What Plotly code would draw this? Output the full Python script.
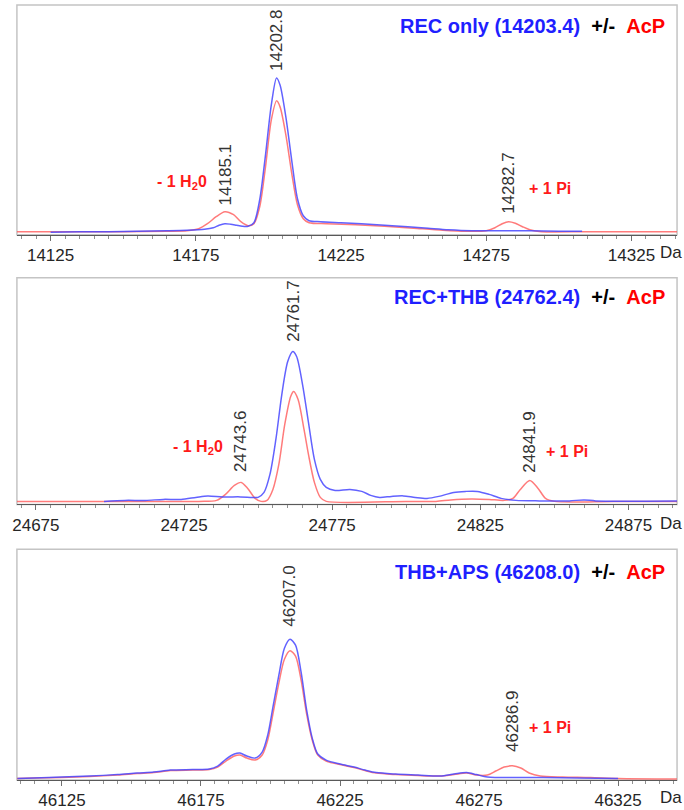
import plotly.graph_objects as go

# ---------------- DATA ----------------
# Panel 1 : REC only (14203.4) +/- AcP
p1_blue_da = [14125, 14135, 14145, 14155, 14165, 14172, 14178, 14181, 14183, 14185, 14187, 14189,
              14191, 14193, 14195, 14197, 14199, 14201, 14202.8, 14204, 14206, 14208, 14210, 14212,
              14214, 14218, 14225, 14232, 14240, 14248, 14255, 14262, 14270, 14280, 14290, 14300, 14308]
p1_blue_int = [2.5, 3, 3, 3.5, 4, 4.5, 5.5, 7, 9.5, 11, 10.5, 9.5,
               8.5, 8.5, 12, 35, 80, 130, 157, 150, 118, 75, 36, 19,
               14, 13, 12, 11, 9.5, 8, 6.5, 5, 4, 4, 4, 3.5, 3.5]
p1_red_da = [14113.4, 14130, 14150, 14165, 14172, 14176, 14179, 14182, 14185, 14188, 14190.5,
             14193, 14195, 14197, 14199, 14201, 14202.8, 14204, 14206, 14208, 14210, 14212,
             14214, 14220, 14230, 14240, 14250, 14260, 14268, 14275, 14278, 14280.5, 14282.7,
             14285, 14287.5, 14290, 14294, 14310, 14340.7]
p1_red_int = [3, 3, 3, 3.5, 4, 6, 11, 18, 23, 20, 13,
              9, 11, 28, 68, 115, 134, 128, 100, 62, 30, 16,
              12, 11, 10, 8.5, 6.5, 4.5, 3.5, 4, 7, 11, 13,
              11.5, 8, 5, 3, 3, 3]

# Panel 2 : REC+THB (24762.4) +/- AcP
p2_blue_da = [24698, 24705, 24712, 24718, 24724, 24729, 24733, 24738, 24744, 24748, 24750,
              24752, 24754, 24756, 24758, 24760, 24761.7, 24763, 24765, 24767, 24769, 24771,
              24773, 24776, 24781, 24785, 24788, 24791, 24795, 24799, 24803, 24807, 24811,
              24816, 24820, 24824, 24828, 24832, 24837, 24845, 24855, 24860, 24864, 24891.4]
p2_blue_int = [3, 4, 4, 5, 5, 7, 8.5, 7.5, 7.5, 7, 7,
               12, 30, 65, 110, 143, 153, 148, 120, 82, 45, 25,
               17, 14, 15, 13, 9, 7, 8, 8.5, 7, 6, 8,
               12, 13, 13, 10, 6, 4, 3.5, 3.5, 4.5, 3.5, 3.5]
p2_red_da = [24668.6, 24700, 24730, 24736, 24739, 24742, 24744.3, 24746.5, 24749, 24751,
             24753, 24755, 24757, 24759, 24761, 24762, 24763.5, 24765.5, 24767, 24769, 24771,
             24773, 24800, 24810, 24815, 24822, 24828, 24833, 24836, 24838.5, 24841.7,
             24844.5, 24847, 24850, 24870, 24891.4]
p2_red_int = [3, 3, 3, 4, 10, 19, 22, 16, 6, 3,
              4, 15, 40, 80, 108, 113, 105, 75, 50, 22, 7,
              3, 3, 3, 4.5, 5.5, 5, 4, 6, 15, 24,
              16, 6, 3, 3, 3]

# Panel 3 : THB+APS (46208.0) +/- AcP
p3_blue_da = [46109, 46115, 46125, 46135, 46145, 46152, 46158, 46164, 46172, 46178, 46181,
              46184, 46187, 46189, 46191.5, 46194.5, 46197, 46199, 46201, 46203, 46205, 46207,
              46209, 46211, 46213, 46215, 46217, 46220, 46225, 46230, 46234, 46238, 46245,
              46253, 46261, 46266, 46270.5, 46274, 46278, 46290, 46298, 46310, 46325]
p3_blue_int = [1.5, 2, 3, 4, 5.5, 7, 8, 10, 10.5, 11, 14,
               21, 26, 27, 24, 22, 28, 45, 75, 105, 132, 141,
               135, 108, 70, 42, 26, 20, 16, 13, 10, 7.5, 6,
               5, 4, 6, 7.5, 5.5, 3, 2.5, 2.5, 2, 1.5]
p3_red_da = [46108.8, 46115, 46125, 46135, 46145, 46152, 46158, 46164, 46172, 46178, 46181,
             46184, 46187, 46189, 46191.5, 46194.5, 46197, 46199, 46201, 46203, 46205, 46207,
             46209, 46211, 46213, 46215, 46217, 46220, 46225, 46230, 46234, 46238, 46245,
             46253, 46261, 46266, 46270.5, 46274, 46278, 46281, 46284, 46287, 46290, 46293,
             46297, 46305, 46315, 46325, 46346.2]
p3_red_int = [1.5, 2, 2.5, 3.5, 5, 6.5, 7.5, 9.5, 10, 10.5, 13,
              19, 24, 25, 22, 20, 25, 40, 68, 97, 121, 129.5,
              124, 100, 66, 40, 25, 19, 15.5, 12.5, 9.5, 7, 5.5,
              4.5, 4, 5.5, 7, 5, 5, 9, 13, 14.2, 12, 7,
              4, 3, 2.5, 1.5, 1]

# Axis ranges, ticks
x_ranges = [[14113.4, 14340.7], [24668.6, 24891.4], [46108.8, 46346.2]]
tick_starts = [14125, 24675, 46125]
y_tops = [230, 227, 231]

# Panel texts
panel_titles = ["REC only (14203.4)", "REC+THB (24762.4)", "THB+APS (46208.0)"]
peak_labels = [
    [("14202.8", 14202.8, 162), ("14185.1", 14185.1, 27), ("14282.7", 14282.7, 19)],
    [("24761.7", 24761.7, 161), ("24743.6", 24744.3, 30), ("24841.9", 24841.7, 30)],
    [("46207.0", 46207.0, 152), ("46286.9", 46287.0, 26)],
]
mod_labels = [
    [("- 1 H<sub>2</sub>0", 14170.1, 52), ("+ 1 Pi", 14297.0, 46)],
    [("- 1 H<sub>2</sub>0", 24729.6, 57), ("+ 1 Pi", 24854.2, 53)],
    [("+ 1 Pi", 46300.5, 53)],
]

# ---------------- FIGURE ----------------
W, H = 684, 810
FONT = "Liberation Sans, Arial, sans-serif"
BLUE_LINE = "rgba(70,70,255,0.85)"
RED_LINE = "rgba(255,90,90,0.80)"

# pixel geometry of panels (top px, axis px)
panels_px = [(5, 235), (278, 505), (550, 781)]
x_dom = [12 / W, 677 / W]

fig = go.Figure()
series = [(p1_blue_da, p1_blue_int, p1_red_da, p1_red_int),
          (p2_blue_da, p2_blue_int, p2_red_da, p2_red_int),
          (p3_blue_da, p3_blue_int, p3_red_da, p3_red_int)]

layout_axes = {}
annotations = []
shapes = []
for i, (bx, by, rx, ry) in enumerate(series):
    n = "" if i == 0 else str(i + 1)
    xa, ya = "x" + n, "y" + n
    fig.add_trace(go.Scatter(x=rx, y=ry, mode="lines", xaxis=xa, yaxis=ya,
                             line=dict(color=RED_LINE, width=1.5, shape="spline", smoothing=0.8),
                             hoverinfo="skip", showlegend=False))
    fig.add_trace(go.Scatter(x=bx, y=by, mode="lines", xaxis=xa, yaxis=ya,
                             line=dict(color=BLUE_LINE, width=1.5, shape="spline", smoothing=0.8),
                             hoverinfo="skip", showlegend=False))
    top_px, ax_px = panels_px[i]
    y_dom = [(H - ax_px) / H, (H - top_px) / H]
    layout_axes["xaxis" + n] = dict(
        domain=x_dom, anchor=ya, range=x_ranges[i], showgrid=False, zeroline=False,
        showline=True, linecolor="#595959", linewidth=1,
        ticks="outside", ticklen=5, tickwidth=1, tickcolor="#707070",
        tick0=tick_starts[i], dtick=50, tickformat="d",
        tickfont=dict(family=FONT, size=17, color="#262626"),
        minor=dict(ticks="outside", ticklen=3, tickwidth=1, tickcolor="#909090",
                   dtick=5, tick0=tick_starts[i], showgrid=False),
        fixedrange=True)
    layout_axes["yaxis" + n] = dict(
        domain=y_dom, anchor=xa, range=[0, y_tops[i]], visible=False, fixedrange=True)

    # border of the panel (gray frame)
    shapes.append(dict(type="rect", xref="paper", yref="paper",
                       x0=x_dom[0], x1=x_dom[1], y0=y_dom[0], y1=y_dom[1],
                       line=dict(color="#c4c4c4", width=1.5), layer="below"))

    # title
    title_y = [(H - 26) / H, (H - 297) / H, (H - 573) / H][i]
    annotations.append(dict(
        xref="paper", yref="paper", x=667 / W, y=title_y, xanchor="right", yanchor="middle",
        showarrow=False,
        text=("<b><span style='color:#1f1fff'>" + panel_titles[i] + "</span>"
              "\u00a0\u00a0<span style='color:#000000'>+/-</span>\u00a0\u00a0"
              "<span style='color:#ff0000'>AcP</span></b>"),
        font=dict(family=FONT, size=20, color="#1f1fff")))

    # peak mass labels (vertical)
    for txt, xv, yv in peak_labels[i]:
        annotations.append(dict(xref=xa, yref=ya, x=xv, y=yv, text=txt, textangle=-90,
                                xanchor="center", yanchor="bottom", showarrow=False,
                                font=dict(family=FONT, size=17, color="#333333")))
    # modification labels
    for txt, xv, yv in mod_labels[i]:
        annotations.append(dict(xref=xa, yref=ya, x=xv, y=yv, text="<b>" + txt + "</b>",
                                xanchor="center", yanchor="middle", showarrow=False,
                                font=dict(family=FONT, size=16, color="#ff1a1a")))
    # "Da" unit
    label_px = [253, 524, 798][i]
    annotations.append(dict(xref="paper", yref="paper", x=1.0, y=(H - label_px) / H,
                            xanchor="right", yanchor="middle", text="Da", showarrow=False,
                            font=dict(family=FONT, size=17, color="#262626")))

fig.update_layout(
    width=W, height=H, margin=dict(l=0, r=0, t=0, b=0),
    paper_bgcolor="white", plot_bgcolor="white",
    annotations=annotations, shapes=shapes, **layout_axes)

fig.write_html("out.html")
